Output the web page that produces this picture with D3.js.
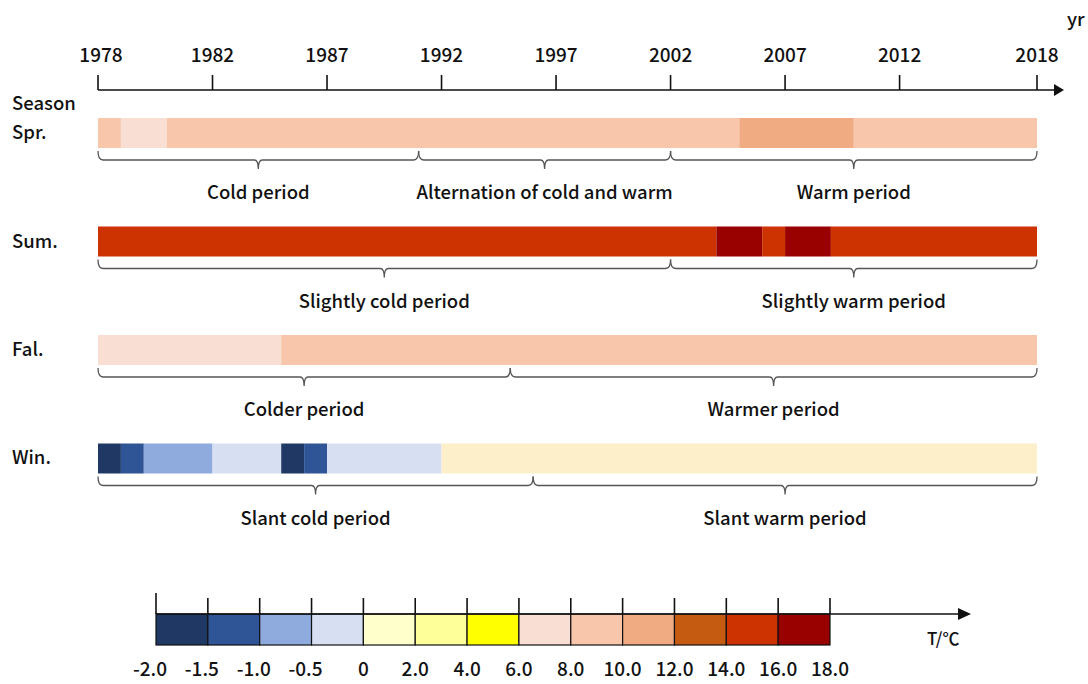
<!DOCTYPE html>
<html>
<head>
<meta charset="utf-8">
<script src="https://cdn.jsdelivr.net/npm/d3@7"></script>
<style>
  html, body { margin: 0; padding: 0; background: #fff; }
  svg text { font-family: "Noto Sans CJK SC", "Noto Sans", sans-serif; font-weight: 500; fill: #111; }
</style>
</head>
<body>
<svg id="chart" width="1088" height="684"></svg>
<script>
// ---------------- DATA ----------------
const yearSpan = [1978, 2018];
const axisTickYears = [1978, 1982, 1987, 1992, 1997, 2002, 2007, 2012, 2018];

const seasons = ["Spr.", "Sum.", "Fal.", "Win."];

// runs: [firstYear, lastYear, temperature (°C, class mid-value)]
const springRuns = [[1978,1978,9],[1979,1980,7],[1981,2005,9],[2006,2010,11],[2011,2018,9]];
const summerRuns = [[1978,2004,15],[2005,2006,17],[2007,2007,15],[2008,2009,17],[2010,2018,15]];
const fallRuns   = [[1978,1985,7],[1986,2018,9]];
const winterRuns = [[1978,1978,-1.75],[1979,1979,-1.25],[1980,1982,-0.75],[1983,1985,-0.25],
                    [1986,1986,-1.75],[1987,1987,-1.25],[1988,1992,-0.25],[1993,2018,1]];

// periods: [firstYear, lastYear, label]
const springPeriods = [[1978,1991,"Cold period"],[1992,2002,"Alternation of cold and warm"],[2003,2018,"Warm period"]];
const summerPeriods = [[1978,2002,"Slightly cold period"],[2003,2018,"Slightly warm period"]];
const fallPeriods   = [[1978,1995,"Colder period"],[1996,2018,"Warmer period"]];
const winterPeriods = [[1978,1996,"Slant cold period"],[1997,2018,"Slant warm period"]];

const legendBreaks = [-2.0,-1.5,-1.0,-0.5,0,2.0,4.0,6.0,8.0,10.0,12.0,14.0,16.0,18.0];
const legendLabels = ["-2.0","-1.5","-1.0","-0.5","0","2.0","4.0","6.0","8.0","10.0","12.0","14.0","16.0","18.0"];
const legendColors = ["#203864","#2F5597","#8FAADC","#D6E0F2","#FFFFCC","#FFFF99","#FFFF00",
                      "#F8DED3","#F7C6AB","#F0AB83","#C55A11","#CC3300","#990000"];

// ---------------- DRAW ----------------
const svg = d3.select("#chart");
const runsBySeason = [springRuns, summerRuns, fallRuns, winterRuns];
const periodsBySeason = [springPeriods, summerPeriods, fallPeriods, winterPeriods];
const FS = 18.5;

// each year is a cell [year, year+1)
const x = d3.scaleLinear().domain([yearSpan[0], yearSpan[1] + 1]).range([98, 1037]);
const row = d3.scaleBand().domain(seasons).range([118, 473.5]).paddingInner(0.7235).paddingOuter(0);
const bandH = row.bandwidth();

const color = d3.scaleThreshold().domain(legendBreaks.slice(1, -1)).range(legendColors);
const stripColor = v => { const c = color(v); return c === "#FFFFCC" ? "#FCEFCA" : c; };

// top time axis
const axisY = 90;
const tickPos = (y, i) => i === 0 ? x(y) : x(y + 1);
const gAxis = svg.append("g");
gAxis.append("line").attr("x1", x(yearSpan[0])).attr("x2", 1056).attr("y1", axisY).attr("y2", axisY)
  .attr("stroke", "#111").attr("stroke-width", 1.6);
gAxis.append("path").attr("d", `M1054,${axisY-6} L1064,${axisY} L1054,${axisY+6} Z`).attr("fill", "#111");
gAxis.selectAll("line.tick").data(axisTickYears).join("line").attr("class", "tick")
  .attr("x1", (d, i) => tickPos(d, i)).attr("x2", (d, i) => tickPos(d, i))
  .attr("y1", axisY - 15).attr("y2", axisY).attr("stroke", "#111").attr("stroke-width", 1.6);
gAxis.selectAll("text.tl").data(axisTickYears).join("text").attr("class", "tl")
  .attr("x", (d, i) => tickPos(d, i) + (i === 0 ? 3 : 0)).attr("y", 62)
  .attr("text-anchor", "middle").attr("font-size", 19).text(d => d);
gAxis.append("text").attr("x", 1067).attr("y", 26).attr("font-size", FS).text("yr");

svg.append("text").attr("x", 12).attr("y", 110).attr("font-size", FS).text("Season");

// season strips
seasons.forEach((s, si) => {
  const y0 = row(s);
  const g = svg.append("g");
  g.append("text").attr("x", 12).attr("y", y0 + bandH / 2 + 6).attr("font-size", FS).text(s);
  g.selectAll("rect").data(runsBySeason[si]).join("rect")
    .attr("x", d => x(d[0])).attr("width", d => x(d[1] + 1) - x(d[0]))
    .attr("y", y0).attr("height", bandH).attr("fill", d => stripColor(d[2]));

  // braces
  const b = y0 + bandH;
  const yh = b + 12, yt = b + 21;
  periodsBySeason[si].forEach(p => {
    const x0 = x(p[0]), x1 = x(p[1] + 1), m = (x0 + x1) / 2;
    g.append("path")
      .attr("d", `M${x0},${b+3} Q${x0},${yh} ${x0+5},${yh} L${m-4},${yh} Q${m},${yh} ${m},${yt} Q${m},${yh} ${m+4},${yh} L${x1-5},${yh} Q${x1},${yh} ${x1},${b+3}`)
      .attr("fill", "none").attr("stroke", "#555").attr("stroke-width", 1.3);
    g.append("text").attr("x", m).attr("y", b + 51).attr("text-anchor", "middle")
      .attr("font-size", FS).text(p[2]);
  });
});

// legend
const lx = d3.scaleLinear().domain([0, legendColors.length]).range([156, 830]);
const ly = 614, lh = 31;
const gL = svg.append("g");
gL.selectAll("rect").data(legendColors).join("rect")
  .attr("x", (d, i) => lx(i)).attr("y", ly).attr("width", lx(1) - lx(0)).attr("height", lh)
  .attr("fill", d => d).attr("stroke", "#111").attr("stroke-width", 1.2);
gL.append("line").attr("x1", lx(0)).attr("x2", 960).attr("y1", ly).attr("y2", ly)
  .attr("stroke", "#111").attr("stroke-width", 1.6);
gL.append("path").attr("d", `M958,${ly-6} L971,${ly} L958,${ly+6} Z`).attr("fill", "#111");
gL.selectAll("line.lt").data(legendBreaks).join("line").attr("class", "lt")
  .attr("x1", (d, i) => lx(i)).attr("x2", (d, i) => lx(i))
  .attr("y1", (d, i) => i === 0 ? ly - 21 : ly - 16).attr("y2", ly)
  .attr("stroke", "#111").attr("stroke-width", 1.6);
gL.selectAll("text").data(legendLabels).join("text")
  .attr("x", (d, i) => lx(i) - (d.startsWith("-") ? 6 : 0)).attr("y", 676)
  .attr("text-anchor", "middle").attr("font-size", 19).text(d => d);
gL.append("text").attr("x", 927).attr("y", 645).attr("font-size", 17).text("T/℃");
</script>
</body>
</html>
